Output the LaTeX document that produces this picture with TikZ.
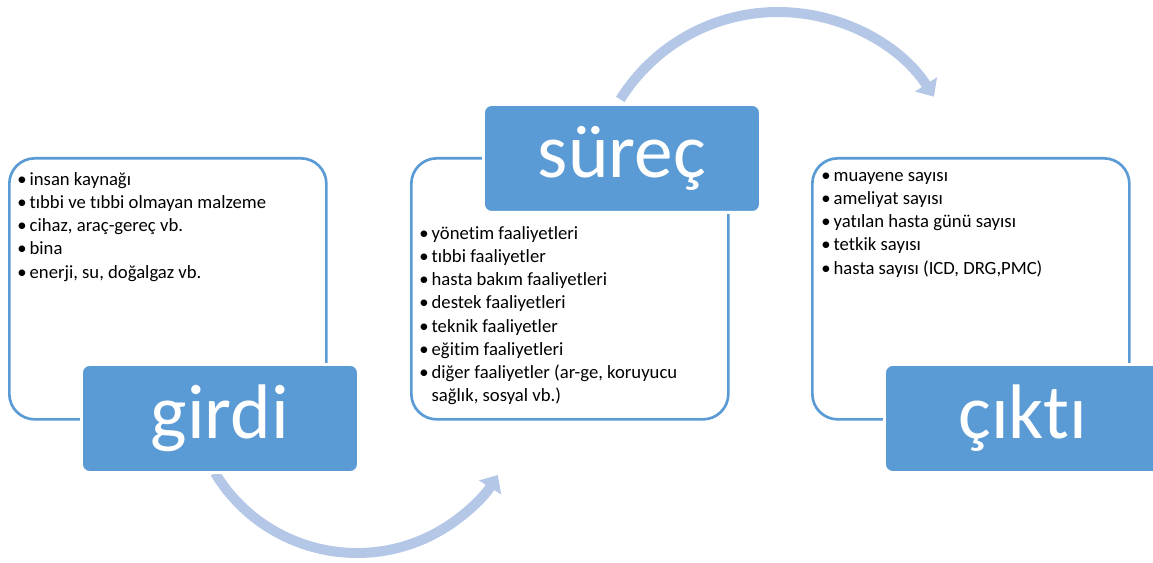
\documentclass[tikz,border=0pt]{standalone}
\usepackage{fontspec}
\setmainfont{Carlito}[Ligatures={NoCommon}]
\usepackage{xcolor}
\usetikzlibrary{arrows.meta}
\usetikzlibrary{positioning}
\usetikzlibrary{calc}
\definecolor{lblblue}{HTML}{5B9BD5}
\definecolor{arcblue}{HTML}{B4C7E7}

\begin{document}
\begin{tikzpicture}[x=0.75pt,y=-0.75pt,
		outbox/.style={draw=lblblue, line width=2pt, rounded corners=19pt, minimum width=317*0.75pt, minimum height=261*0.75pt, anchor=north west, inner sep=0pt},
		lblbox/.style={draw=white, line width=2.2pt, fill=lblblue, rounded corners=6pt, minimum width=277*0.75pt, minimum height=108*0.75pt, anchor=north west, inner sep=0pt},
		lbltext/.style={text=white, font=\fontsize{58}{60}\selectfont},
		items/.style={anchor=north west, align=left, inner sep=0pt, font=\fontsize{14}{17.4}\selectfont},
		flowarc/.style={draw=arcblue, line width=7.5pt, -{Triangle[width=19pt,length=11pt]}}]
		\useasboundingbox (0,0) rectangle (1153,563);
		
		%coordinates
		\coordinate (girdiC) at (357,387);
		\coordinate (surecC) at (778,198);
		
		%arrows
		\draw[flowarc] ($(girdiC)+(148.8:166)$) coordinate (arcAs) arc[start angle=148.8, end angle=32, radius=166];
		\draw[flowarc] ($(surecC)+(-148:186)$) coordinate (arcBs) arc[start angle=-148, end angle=-33, radius=186];
		
		%boxes
		\node[outbox] (girdiBox) at (8,157) {};
		\node[outbox] (surecBox) at (410,157) {};
		\node[outbox] (ciktiBox) at (811,157) {};
		
		%texts
		\node[items] (girdiList) at (17,172) {\textbullet\,insan kaynağı\\ \textbullet\,tıbbi ve tıbbi olmayan malzeme\\ \textbullet\,cihaz, araç-gereç vb.\\ \textbullet\,bina\\ \textbullet\,enerji, su, doğalgaz vb.};
		\node[items] (surecList) at (419,226) {\textbullet\,yönetim faaliyetleri\\ \textbullet\,tıbbi faaliyetler\\ \textbullet\,hasta bakım faaliyetleri\\ \textbullet\,destek faaliyetleri\\ \textbullet\,teknik faaliyetler\\ \textbullet\,eğitim faaliyetleri\\ \textbullet\,diğer faaliyetler (ar-ge, koruyucu\\ \phantom{\textbullet\,}sağlık, sosyal vb.)};
		\node[items] (ciktiList) at (821,172) {\textbullet\,muayene sayısı\\ \textbullet\,ameliyat sayısı\\ \textbullet\,yatılan hasta günü sayısı\\ \textbullet\,tetkik sayısı\\ \textbullet\,hasta sayısı (ICD, DRG,PMC)};
		
		%labels
		\node[lblbox] (girdiLbl) at (80,363) {};
		\node[lbltext] at (girdiLbl.center) {girdi};
		\node[lblbox] (surecLbl) at (482,103) {};
		\node[lbltext] at (surecLbl.center) {süreç};
		\node[lblbox] (ciktiLbl) at (883,363) {};
		\node[lbltext] at (ciktiLbl.center) {çıktı};
\end{tikzpicture}
\end{document}
